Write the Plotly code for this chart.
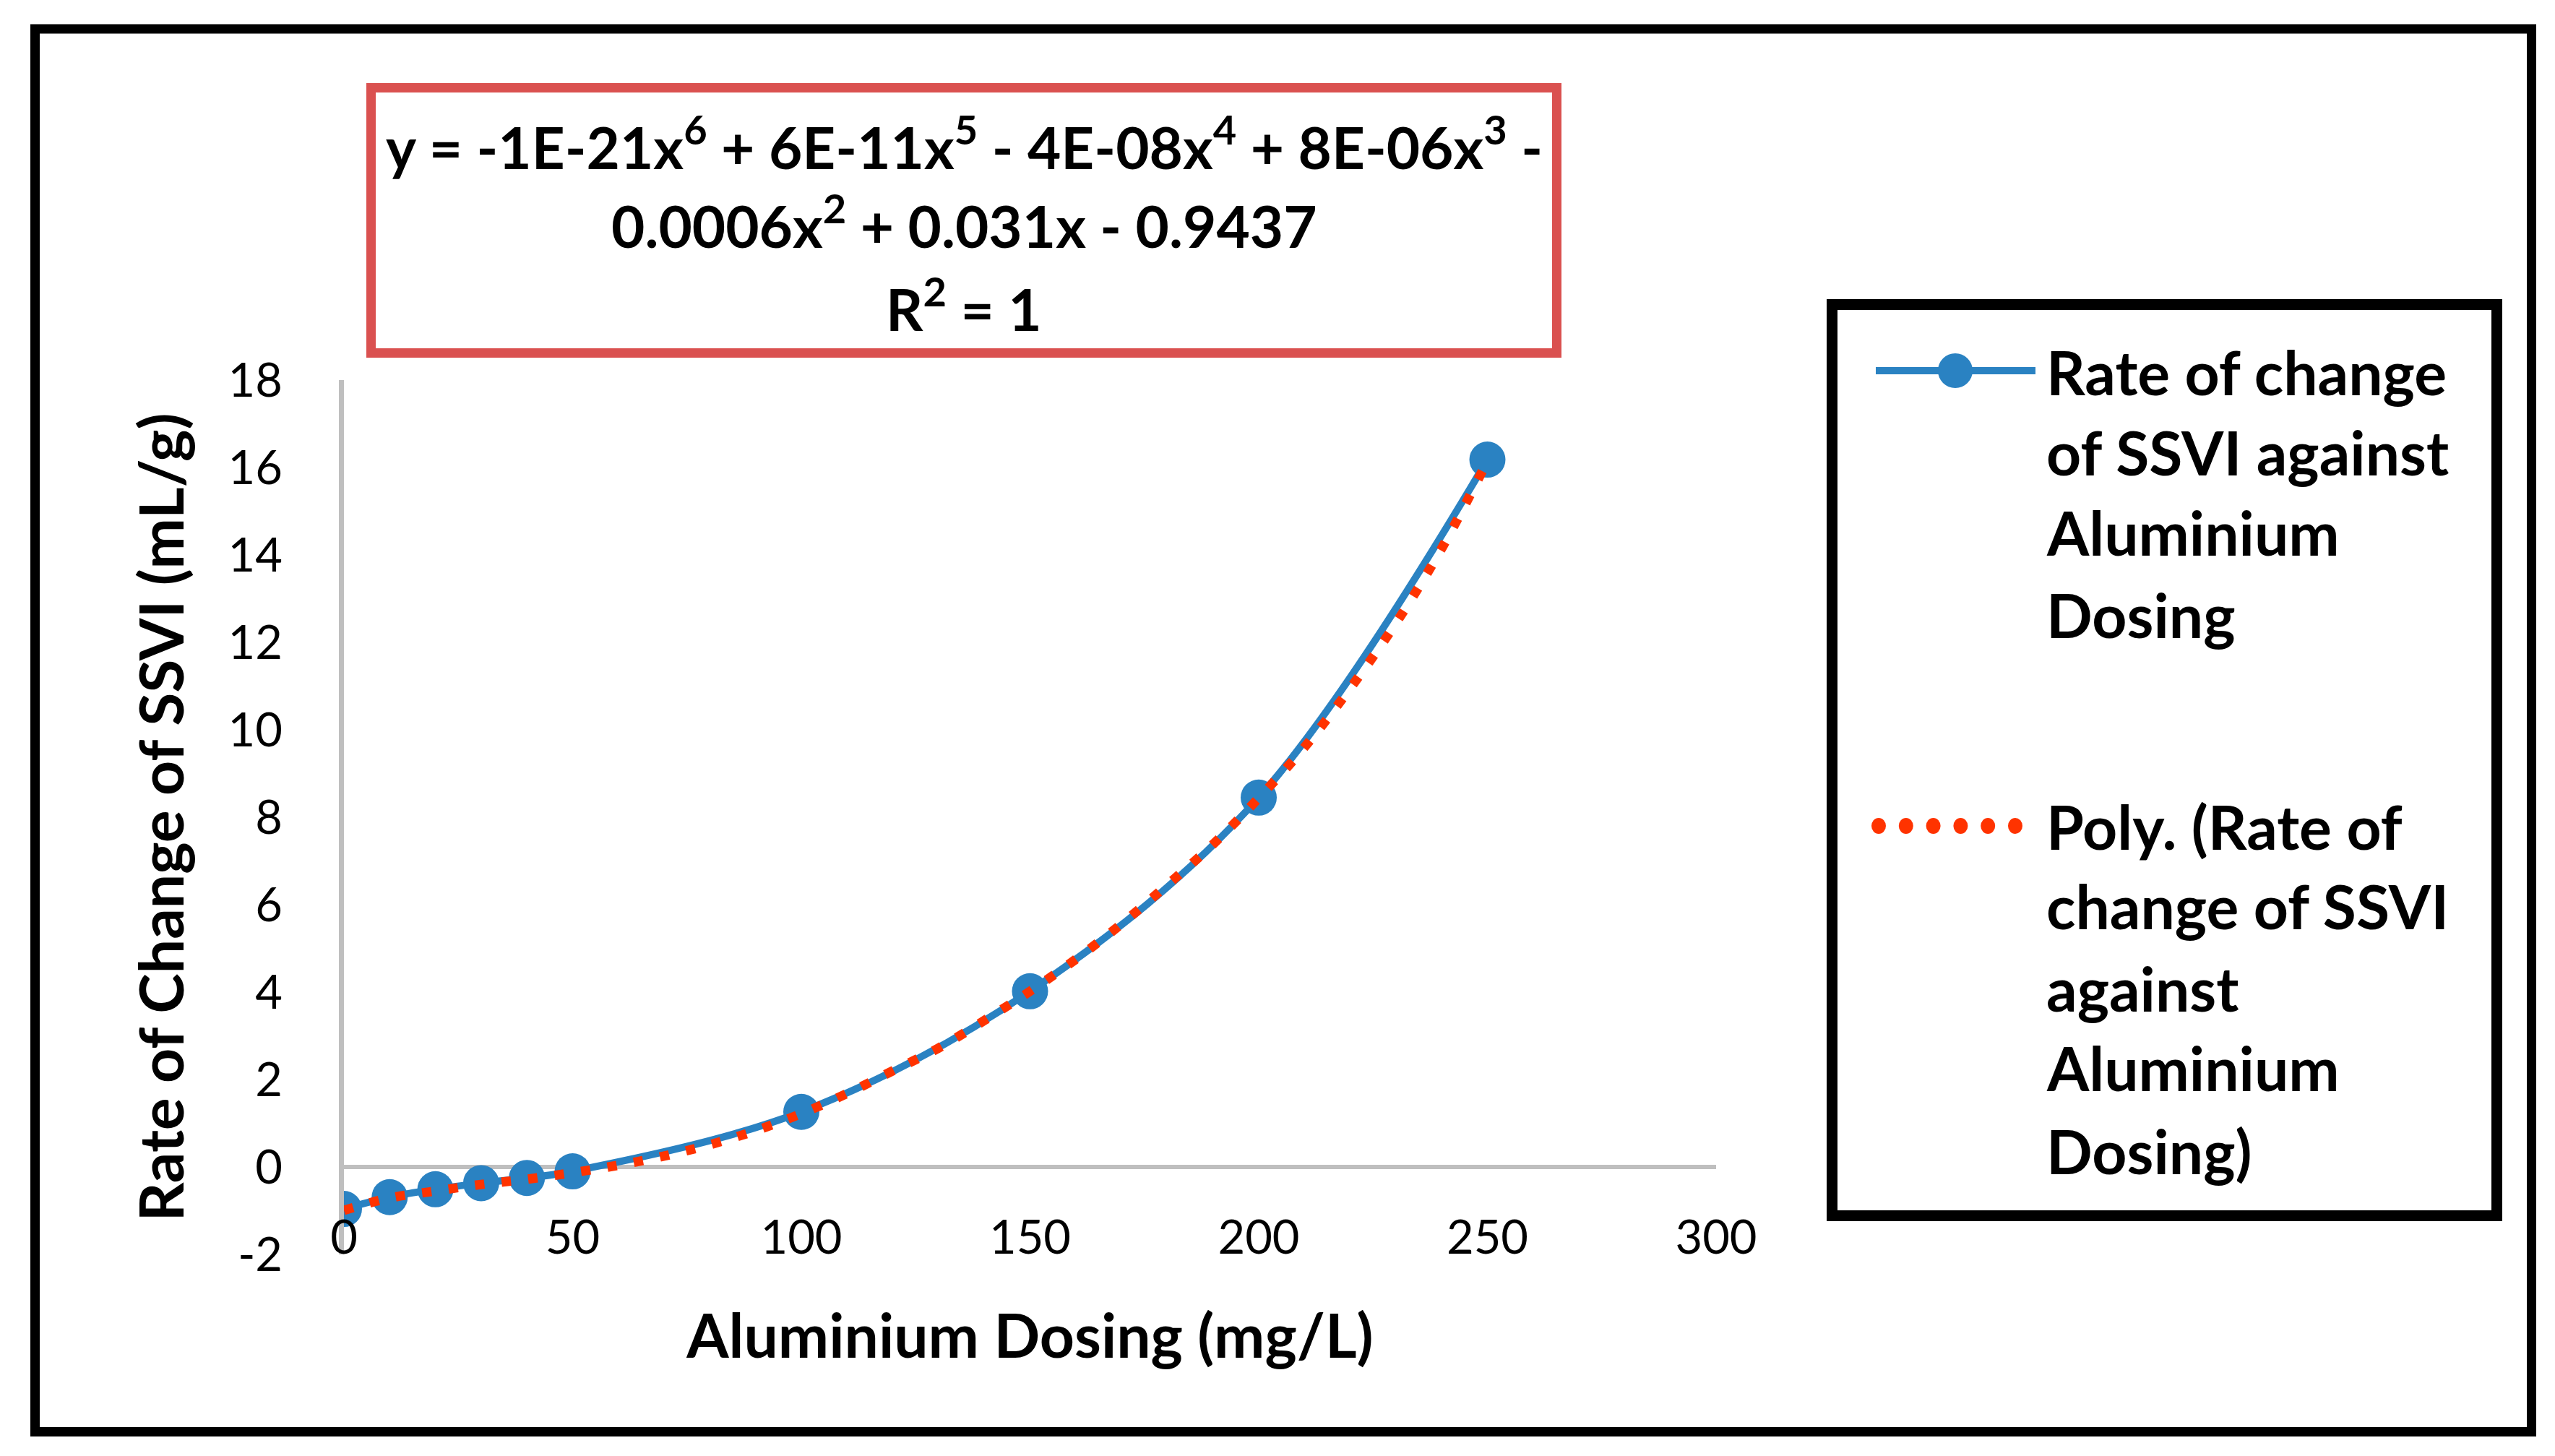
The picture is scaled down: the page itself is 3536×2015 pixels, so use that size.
import plotly.graph_objects as go

# Figure size (pixels)
W = 3536
H = 2015
# the page body adds a small margin, positions below are measured on the full image
OFF = 8

# Measured data points (Aluminium dosing vs rate of change of SSVI)
dosing = [0, 10, 20, 30, 40, 50, 100, 150, 200, 250]
rate_change = [-0.96, -0.69, -0.51, -0.37, -0.25, -0.10, 1.26, 4.02, 8.45, 16.18]

# Polynomial trendline, values
trend_x = [0, 10, 20, 30, 40, 50, 60, 70, 80, 90, 100, 110, 120, 130,
           140, 150, 160, 170, 180, 190, 200, 210, 220, 230, 240, 250]
trend_y = [-0.99, -0.71, -0.55, -0.40, -0.28, -0.13, 0.04, 0.25, 0.51, 0.83,
           1.22, 1.68, 2.20, 2.72, 3.35, 4.02, 4.75, 5.56, 6.45, 7.38,
           8.44, 9.60, 10.95, 12.44, 14.15, 16.15]

x_ticks = [0, 50, 100, 150, 200, 250, 300]
y_ticks = [-2, 0, 2, 4, 6, 8, 10, 12, 14, 16, 18]
y_tick_labels = ['-2', '0', '2', '4', '6', '8', '10', '12', '14', '16', '18']

equation_lines = [
    'y = -1E-21x<sup>6</sup> + 6E-11x<sup>5</sup> - 4E-08x<sup>4</sup> + 8E-06x<sup>3</sup> -',
    '0.0006x<sup>2</sup> + 0.031x - 0.9437',
    'R<sup>2</sup> = 1',
]
legend_lines_1 = ['Rate of change', 'of SSVI against', 'Aluminium', 'Dosing']
legend_lines_2 = ['Poly. (Rate of', 'change of SSVI', 'against', 'Aluminium', 'Dosing)']

BLUE = '#2A82C2'
RED = '#FF3300'
FONT = 'Lato'


def px(x):
    # pixel -> paper x
    return (x - OFF) / W


def py(y):
    # pixel -> paper y (paper y goes up)
    return 1 - (y - OFF) / H


fig = go.Figure()

fig.add_trace(go.Scatter(
    x=dosing, y=rate_change,
    mode='lines+markers',
    line=dict(color=BLUE, width=10, shape='spline'),
    marker=dict(color=BLUE, size=50),
    name='Rate of change of SSVI against Aluminium Dosing'
))

fig.add_trace(go.Scatter(
    x=trend_x, y=trend_y,
    mode='lines',
    line=dict(color=RED, width=13, dash='13px,24px', shape='spline'),
    name='Poly. (Rate of change of SSVI against Aluminium Dosing)'
))

fig.update_layout(
    width=W, height=H,
    margin=dict(l=0, r=0, t=0, b=0),
    paper_bgcolor='white',
    plot_bgcolor='white',
    showlegend=False,
    font=dict(family=FONT, color='black'),
)

# x axis is floated up so its labels sit just above the -2 level, as in Excel
fig.update_xaxes(
    domain=[px(476), px(2375)],
    range=[0, 300],
    tickvals=x_ticks,
    anchor='free', position=py(1669),
    showgrid=False, zeroline=False, showline=False,
    ticks='',
    ticklabelstandoff=0,
    tickfont=dict(family=FONT, size=65, color='black'),
    title=dict(text='<b>Aluminium Dosing (mg/L)</b>',
               font=dict(family=FONT, size=84, color='black'),
               standoff=72),
    automargin=False,
)

fig.update_yaxes(
    domain=[py(1736), py(526)],
    range=[-2, 18],
    tickvals=y_ticks,
    ticktext=y_tick_labels,
    showgrid=False,
    zeroline=True, zerolinecolor='#BFBFBF', zerolinewidth=6,
    showline=True, linecolor='#BFBFBF', linewidth=7,
    ticks='',
    ticklabelstandoff=65,
    tickfont=dict(family=FONT, size=65, color='black'),
    title=dict(text='<b>Rate of Change of SSVI (mL/g)</b>',
               font=dict(family=FONT, size=84, color='black'),
               standoff=36),
    automargin=False,
)

# Outer frame
fig.add_shape(type='rect', xref='paper', yref='paper',
              x0=px(48.5), x1=px(3503.5), y0=py(40), y1=py(1981.5),
              line=dict(color='black', width=13), layer='above')

# Trendline equation box
fig.add_shape(type='rect', xref='paper', yref='paper',
              x0=px(513.5), x1=px(2154.5), y0=py(121.5), y1=py(488.5),
              line=dict(color='#DA5150', width=13))
eq_y = [198, 307, 422]
for i in range(len(equation_lines)):
    fig.add_annotation(
        text=equation_lines[i], xref='paper', yref='paper',
        x=px(1334), y=py(eq_y[i]), xanchor='center', yanchor='middle',
        showarrow=False,
        font=dict(family=FONT, size=80, color='black', weight='bold')
    )

# Legend box, drawn by hand so the symbols can be as large as the original
fig.add_shape(type='rect', xref='paper', yref='paper',
              x0=px(2535.5), x1=px(3455.5), y0=py(421.5), y1=py(1682.5),
              line=dict(color='black', width=15))

# blue line + marker symbol
fig.add_shape(type='line', xref='paper', yref='paper',
              x0=px(2596), x1=px(2817), y0=py(513), y1=py(513),
              line=dict(color=BLUE, width=10))
fig.add_shape(type='circle', xref='paper', yref='paper',
              x0=px(2706 - 24), x1=px(2706 + 24),
              y0=py(513 - 24), y1=py(513 + 24),
              fillcolor=BLUE, line=dict(width=0))

# red dotted symbol
for i in range(6):
    cx = 2600 + i * 37.8
    fig.add_shape(type='circle', xref='paper', yref='paper',
                  x0=px(cx - 10), x1=px(cx + 10),
                  y0=py(1143 - 11), y1=py(1143 + 11),
                  fillcolor=RED, line=dict(width=0))

legend_y_1 = [515, 626, 736, 850]
legend_y_2 = [1143, 1253, 1367, 1477, 1592]
for lines, ys in [(legend_lines_1, legend_y_1), (legend_lines_2, legend_y_2)]:
    for i in range(len(lines)):
        fig.add_annotation(
            text=lines[i], xref='paper', yref='paper',
            x=px(2830), y=py(ys[i]), xanchor='left', yanchor='middle',
            showarrow=False,
            font=dict(family=FONT, size=84, color='black', weight='bold')
        )

fig.write_html('out.html')
